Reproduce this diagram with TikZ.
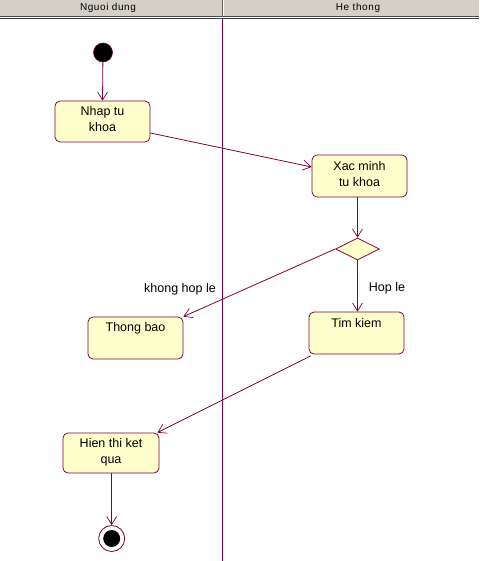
\documentclass[tikz,border=0pt]{standalone}
\usepackage{fontspec}
\setmainfont{Liberation Sans}
\usetikzlibrary{arrows.meta,shapes.geometric}
\definecolor{umlline}{RGB}{128,0,64}
\definecolor{umlfill}{RGB}{255,255,204}
\definecolor{hdrgray}{RGB}{212,208,200}
\tikzset{
  actbox/.style={draw=umlline, fill=umlfill, rounded corners=5pt, line width=0.8pt, inner sep=0pt},
  acttext/.style={anchor=north, align=center, inner sep=0pt, font=\fontsize{12.5}{16}\selectfont},
  flow/.style={draw=umlline, line width=0.8pt, -{Straight Barb[length=8pt,width=10pt,line width=0.7pt]}},
  guard/.style={font=\fontsize{12.5}{15}\selectfont, inner sep=0pt},
  hdr/.style={font=\fontsize{10}{11}\selectfont\addfontfeatures{LetterSpace=6}, inner sep=0pt}
}
\begin{document}
\begin{tikzpicture}[x=1pt,y=-1pt]
\useasboundingbox (0,0) rectangle (479,561);
\fill[white] (0,0) rectangle (479,561);
% header
\fill[hdrgray] (0,0) rectangle (479,16);
\draw[gray!60!black, line width=1pt] (0,16.5) -- (479,16.5);
\draw[black!75, line width=1.3pt] (0,18.6) -- (479,18.6);
\draw[black!65, line width=1pt] (222,0) -- (222,16);
\draw[white, line width=0.8pt] (223.4,0) -- (223.4,16);
\node[hdr] (h1) at (108,7.5) {Nguoi dung};
\node[hdr] (h2) at (358,7.5) {He thong};
% swimlane divider
\draw[umlline, line width=0.9pt] (222,19.3) -- (222,561);

% start
\node[circle, fill=black, draw=umlline, line width=0.6pt, minimum size=19pt, inner sep=0pt] (start) at (103,52.5) {};
% activities
\node[actbox, minimum width=95pt, minimum height=41pt] (nhap) at (102.5,121.5) {};
\node[acttext] (tnhap) at ([yshift=-5.5pt]nhap.north) {Nhap tu\\khoa};
\node[actbox, minimum width=95pt, minimum height=42pt] (xac) at (359.5,176) {};
\node[acttext] (txac) at ([yshift=-6.5pt]xac.north) {Xac minh\\tu khoa};
\node[diamond, draw=umlline, fill=umlfill, line width=0.8pt, inner sep=0pt, minimum width=44pt, minimum height=22pt] (dec) at (357.5,249) {};
\node[actbox, minimum width=95pt, minimum height=42pt] (thong) at (135.5,338) {};
\node[acttext] (tthong) at ([yshift=-6pt]thong.north) {Thong bao};
\node[actbox, minimum width=95pt, minimum height=42pt] (tim) at (356.5,333) {};
\node[acttext] (ttim) at ([yshift=-6.5pt]tim.north) {Tim kiem};
\node[actbox, minimum width=96pt, minimum height=40pt] (hien) at (111,453) {};
\node[acttext] (thien) at ([yshift=-5.5pt]hien.north) {Hien thi ket\\qua};
% final
\node[circle, draw=umlline, fill=white, line width=0.8pt, minimum size=26pt, inner sep=0pt] (fin) at (111.7,538.5) {};
\node[circle, fill=black, minimum size=17pt, inner sep=0pt] (finin) at (fin.center) {};
% guards
\node[guard] (g1) at (180,289) {khong hop le};
\node[guard] (g2) at (387,288.5) {Hop le};
% flows
\draw[flow] (start) -- (nhap.north);
\draw[flow] ([yshift=-11.5pt]nhap.east) -- ([yshift=9pt]xac.west);
\draw[flow] (dec.north |- xac.south) -- (dec.north);
\draw[flow] (dec.west) -- (thong.north east);
\draw[flow] (dec.south) -- (dec.south |- tim.north);
\draw[flow] ([xshift=2pt,yshift=-1.5pt]tim.south west) -- ([xshift=-2pt]hien.north east);
\draw[flow] (hien.south -| fin.north) -- (fin.north);
\end{tikzpicture}
\end{document}
